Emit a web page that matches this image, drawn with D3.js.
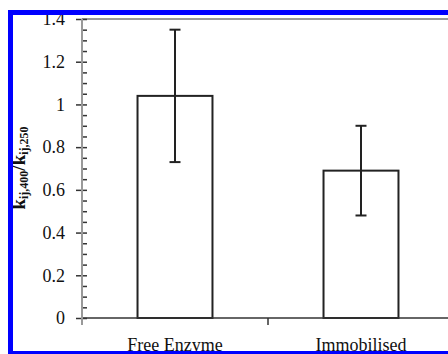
<!DOCTYPE html>
<html>
<head>
<meta charset="utf-8">
<script src="https://cdn.jsdelivr.net/npm/d3@7"></script>
<style>
  body { margin: 0; background: #fff; }
  svg { display: block; }
  text { font-family: "Liberation Serif", "Times New Roman", serif; }
</style>
</head>
<body>
<div id="chart"></div>
<script>
// chart data
var categories = ["Free Enzyme", "Immobilised"];
var ratios = [1.04, 0.69];
var errors = [0.31, 0.21];
var yTicks = [0, 0.2, 0.4, 0.6, 0.8, 1, 1.2, 1.4];

var W = 448, H = 354;
var margin = { top: 19, left: 82, bottom: 36 };
var plotRight = 454;

var svg = d3.select("#chart").append("svg")
  .attr("width", W)
  .attr("height", H);

// scales
var y = d3.scaleLinear()
  .domain([0, 1.4])
  .range([H - margin.bottom, margin.top]);

var x = d3.scaleBand()
  .domain(categories)
  .range([margin.left, plotRight])
  .padding(0);

var barW = x.bandwidth() * 0.403;

// top frame line of the plot area
svg.append("line")
  .attr("x1", margin.left).attr("x2", W)
  .attr("y1", y(1.4)).attr("y2", y(1.4))
  .attr("stroke", "#777").attr("stroke-width", 1.5);

// bars
svg.selectAll(".bar")
  .data(categories)
  .enter().append("rect")
  .attr("class", "bar")
  .attr("x", function (d) { return x(d) + (x.bandwidth() - barW) / 2; })
  .attr("width", barW)
  .attr("y", function (d, i) { return y(ratios[i]); })
  .attr("height", function (d, i) { return y(0) - y(ratios[i]); })
  .attr("fill", "#fff")
  .attr("stroke", "#222")
  .attr("stroke-width", 2);

// error bars
var eb = svg.selectAll(".err")
  .data(categories)
  .enter().append("g")
  .attr("class", "err")
  .attr("stroke", "#222")
  .attr("stroke-width", 2);

eb.append("line")
  .attr("x1", function (d) { return x(d) + x.bandwidth() / 2; })
  .attr("x2", function (d) { return x(d) + x.bandwidth() / 2; })
  .attr("y1", function (d, i) { return y(ratios[i] + errors[i]); })
  .attr("y2", function (d, i) { return y(ratios[i] - errors[i]); });

[1, -1].forEach(function (s) {
  eb.append("line")
    .attr("x1", function (d) { return x(d) + x.bandwidth() / 2 - 5.5; })
    .attr("x2", function (d) { return x(d) + x.bandwidth() / 2 + 5.5; })
    .attr("y1", function (d, i) { return y(ratios[i] + s * errors[i]); })
    .attr("y2", function (d, i) { return y(ratios[i] + s * errors[i]); });
});

// x axis line and the category divider tick
svg.append("line")
  .attr("x1", margin.left).attr("x2", W)
  .attr("y1", y(0)).attr("y2", y(0))
  .attr("stroke", "#333").attr("stroke-width", 1.5);

svg.append("line")
  .attr("x1", x(categories[1])).attr("x2", x(categories[1]))
  .attr("y1", y(0)).attr("y2", y(0) + 7)
  .attr("stroke", "#333").attr("stroke-width", 1.5);

svg.selectAll(".xlab")
  .data(categories)
  .enter().append("text")
  .attr("class", "xlab")
  .attr("x", function (d) { return x(d) + x.bandwidth() / 2; })
  .attr("y", 351)
  .attr("text-anchor", "middle")
  .attr("font-size", 18)
  .attr("fill", "#111")
  .text(function (d) { return d; });

// y axis: minor ticks inside
var minor = svg.append("g")
  .attr("transform", "translate(" + margin.left + ",0)")
  .call(d3.axisRight(y).tickValues(d3.range(0, 1.401, 0.05)).tickSize(5).tickFormat(""));
minor.select(".domain").remove();
minor.selectAll("line").attr("stroke", "#333").attr("stroke-width", 1.5);

// y axis: major ticks with labels
var yAxis = svg.append("g")
  .attr("transform", "translate(" + margin.left + ",0)")
  .call(d3.axisLeft(y).tickValues(yTicks).tickSize(6).tickPadding(11)
    .tickFormat(function (d) { return d3.format("")(+d.toFixed(1)); }));
yAxis.select(".domain").remove();
yAxis.selectAll("line").attr("stroke", "#333").attr("stroke-width", 1.5);
yAxis.selectAll("text")
  .attr("font-size", 18)
  .attr("fill", "#111")
  .style("font-family", "'Liberation Serif', 'Times New Roman', serif");

// y axis line (slightly extends below zero)
svg.append("line")
  .attr("x1", margin.left).attr("x2", margin.left)
  .attr("y1", y(1.4)).attr("y2", y(0) + 7)
  .attr("stroke", "#999").attr("stroke-width", 2);

// y axis title
var yt = svg.append("text")
  .attr("transform", "translate(25," + 168 + ") rotate(-90)")
  .attr("text-anchor", "middle")
  .attr("font-weight", "bold")
  .attr("font-size", 19)
  .attr("fill", "#111");
yt.append("tspan").text("k");
yt.append("tspan").attr("font-size", 12).attr("dy", 3).text("ij,400");
yt.append("tspan").attr("dy", -3).text("/k");
yt.append("tspan").attr("font-size", 12).attr("dy", 3).text("ij,250");

// blue frame
svg.append("rect")
  .attr("x", 10.5).attr("y", 12.5)
  .attr("width", 500).attr("height", 341)
  .attr("fill", "none")
  .attr("stroke", "#0000ff")
  .attr("stroke-width", 5);
</script>
</body>
</html>
